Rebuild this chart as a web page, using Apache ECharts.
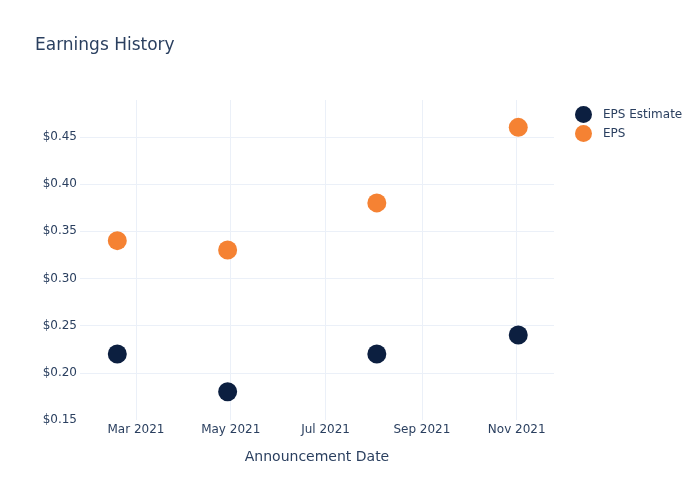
<!DOCTYPE html>
<html><head><meta charset="utf-8">
<script src="https://cdn.jsdelivr.net/npm/echarts@6/dist/echarts.min.js"></script>
<style>html,body{margin:0;padding:0;background:#fff}#c{width:700px;height:500px}</style>
</head><body><div id="c"></div>
<script>
const dates = ['2021-02-17', '2021-04-29', '2021-08-03', '2021-11-02'];
const epsEstimate = [0.22, 0.18, 0.22, 0.24];
const eps = [0.34, 0.33, 0.38, 0.46];
const xTicks = ['2021-03-01', '2021-05-01', '2021-07-01', '2021-09-01', '2021-11-01'];
const yTicks = [0.15, 0.20, 0.25, 0.30, 0.35, 0.40, 0.45];
const monthNames = ['Jan','Feb','Mar','Apr','May','Jun','Jul','Aug','Sep','Oct','Nov','Dec'];

const ts = d => Date.parse(d + 'T00:00:00Z');
const font = 'DejaVu Sans, Verdana, sans-serif';
const txt = '#2a3f5f';
const grid = '#ebf0f8';

const chart = echarts.init(document.getElementById('c'), null, {renderer: 'canvas'});
chart.setOption({
  animation: false,
  backgroundColor: '#fff',
  textStyle: {fontFamily: font},
  title: {text: 'Earnings History', left: 30, top: 32,
    textStyle: {fontFamily: font, fontSize: 17, fontWeight: 'normal', color: txt}},
  legend: {orient: 'vertical', left: 570, top: 101, icon: 'circle', itemWidth: 29, itemHeight: 17, itemGap: 2,
    textStyle: {fontFamily: font, fontSize: 12, color: txt},
    data: ['EPS Estimate', 'EPS']},
  grid: {left: 80, right: 146, top: 100, bottom: 80, containLabel: false},
  xAxis: {
    type: 'value',
    min: ts('2021-01-24'), max: ts('2021-11-25'),
    name: 'Announcement Date', nameLocation: 'middle', nameGap: 30,
    nameTextStyle: {fontFamily: font, fontSize: 14, color: txt},
    axisLine: {show: false}, axisTick: {show: false, customValues: xTicks.map(ts)},
    axisLabel: {customValues: xTicks.map(ts), fontFamily: font, fontSize: 12, color: txt, margin: 4,
      formatter: v => { const d = new Date(v); return monthNames[d.getUTCMonth()] + ' ' + d.getUTCFullYear(); }},
    splitLine: {show: false}
  },
  yAxis: {
    type: 'value', min: 0.15, max: 0.489, interval: 0.05,
    axisLine: {show: false}, axisTick: {show: false},
    axisLabel: {fontFamily: font, fontSize: 12, color: txt, margin: 3, showMaxLabel: false,
      formatter: v => '$' + v.toFixed(2)},
    splitLine: {show: true, showMinLine: false, showMaxLine: false, lineStyle: {color: grid, width: 1}}
  },
  series: [
    {name: 'gridx', type: 'scatter', data: [], z: 0, zlevel: 0, silent: true,
      markLine: {silent: true, symbol: 'none', label: {show: false}, animation: false, z: 0,
        lineStyle: {color: grid, width: 1, type: 'solid'},
        data: xTicks.map(d => ({xAxis: ts(d)}))}},
    {name: 'EPS Estimate', type: 'scatter', symbolSize: 19, itemStyle: {color: '#0c1f40', opacity: 1},
      data: dates.map((d, i) => [ts(d), epsEstimate[i]]), z: 5},
    {name: 'EPS', type: 'scatter', symbolSize: 19, itemStyle: {color: '#f58233', opacity: 1},
      data: dates.map((d, i) => [ts(d), eps[i]]), z: 5}
  ]
});
</script></body></html>
